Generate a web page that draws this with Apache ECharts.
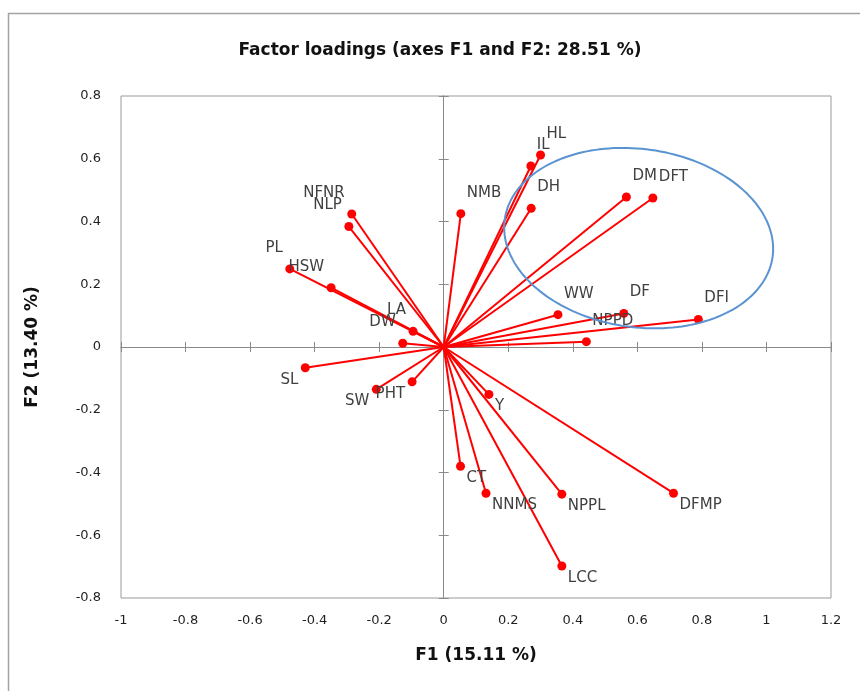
<!DOCTYPE html>
<html>
<head>
<meta charset="utf-8">
<script src="https://cdn.jsdelivr.net/npm/echarts@6/dist/echarts.min.js"></script>
<style>html,body{margin:0;padding:0;background:#fff}#c{width:860px;height:691px}</style>
</head>
<body>
<div id="c"></div>
<script>
// Variable names and factor loadings
const varNames = ['HL','IL','NMB','DH','DM','DFT','WW','DF','DFI','NPPD','NFNR','NLP','PL','HSW','LA','DW','SL','PHT','SW','Y','CT','NNMS','NPPL','DFMP','LCC'];
const f1 = [0.300, 0.270, 0.053, 0.271, 0.566, 0.648, 0.354, 0.558, 0.789, 0.442, -0.285, -0.294, -0.477, -0.349, -0.095, -0.127, -0.429, -0.098, -0.209, 0.140, 0.052, 0.131, 0.366, 0.712, 0.366];
const f2 = [0.612, 0.577, 0.425, 0.442, 0.478, 0.475, 0.103, 0.107, 0.088, 0.017, 0.424, 0.384, 0.249, 0.189, 0.050, 0.012, -0.066, -0.111, -0.135, -0.151, -0.380, -0.466, -0.469, -0.466, -0.698];
// Highlight ellipse: centre (F1, F2) and semi-axes in axis units
const ellipseCentre = [0.604, 0.347];
const ellipseRadii = [0.419, 0.284];

const xMin = -1, xMax = 1.2, yMin = -0.8, yMax = 0.8, step = 0.2;
const tickFont = {fontFamily: 'DejaVu Sans', fontSize: 13, color: '#1f1f1f'};
const gray = '#8a8a8a';

function labelFor(x, y) {
  const right = x >= 0, top = y >= 0;
  return {
    show: true, position: 'inside',
    align: right ? 'left' : 'right', verticalAlign: 'middle',
    offset: [right ? 6 : -7, top ? -21 : 12],
    color: '#404040', fontFamily: 'DejaVu Sans', fontSize: 15,
    textBorderWidth: 0, textBorderColor: 'transparent', formatter: '{b}'
  };
}

function baseAxis(extra) {
  return Object.assign({type: 'value', min: xMin, max: xMax, interval: step, splitLine: {show: false}}, extra);
}
function zeroAxis(grid, inside) {
  return {
    gridIndex: grid,
    axisLine: {show: true, onZero: true, lineStyle: {color: gray, width: 1}},
    axisTick: {show: true, inside: inside, length: 5, lineStyle: {color: gray}},
    axisLabel: {show: false}
  };
}
const gridBox = {left: 121, right: 29, top: 96, bottom: 93, containLabel: false, outerBoundsMode: 'none'};

const chart = echarts.init(document.getElementById('c'), null, {renderer: 'canvas'});
chart.setOption({
  animation: false,
  backgroundColor: '#fff',
  title: {
    text: 'Factor loadings (axes F1 and F2: 28.51 %)',
    left: 435, top: 37, textAlign: 'center',
    textStyle: {fontFamily: 'DejaVu Sans', fontWeight: 'bold', fontSize: 17, color: '#111'}
  },
  graphic: [{
    type: 'rect', shape: {x: 8.5, y: 13.5, width: 900, height: 800},
    style: {fill: 'none', stroke: '#a3a3a3', lineWidth: 1.5}, silent: true, z: -1
  }],
  grid: [
    Object.assign({show: true, borderColor: '#9a9a9a', borderWidth: 1}, gridBox),
    Object.assign({show: false}, gridBox)
  ],
  xAxis: [
    baseAxis({gridIndex: 0, position: 'bottom',
      axisLine: {show: false, onZero: false}, axisTick: {show: false},
      axisLabel: Object.assign({margin: 16}, tickFont),
      name: 'F1 (15.11 %)', nameLocation: 'middle', nameGap: 49,
      nameTextStyle: {fontFamily: 'DejaVu Sans', fontWeight: 'bold', fontSize: 17, color: '#111'}}),
    baseAxis(Object.assign(zeroAxis(0, false), {position: 'bottom'})),
    baseAxis(Object.assign(zeroAxis(1, true), {position: 'bottom'}))
  ],
  yAxis: [
    baseAxis({gridIndex: 0, min: yMin, max: yMax, position: 'left',
      axisLine: {show: false, onZero: false}, axisTick: {show: false},
      axisLabel: Object.assign({margin: 20}, tickFont),
      name: 'F2 (13.40 %)', nameLocation: 'middle', nameGap: 80,
      nameTextStyle: {fontFamily: 'DejaVu Sans', fontWeight: 'bold', fontSize: 17, color: '#111'}}),
    baseAxis(Object.assign(zeroAxis(0, false), {min: yMin, max: yMax, position: 'left'})),
    baseAxis(Object.assign(zeroAxis(1, true), {min: yMin, max: yMax, position: 'left'}))
  ],
  series: [
    {
      type: 'lines', coordinateSystem: 'cartesian2d', xAxisIndex: 0, yAxisIndex: 0,
      silent: true, z: 3,
      lineStyle: {color: '#ff0000', width: 2, opacity: 1, curveness: 0},
      data: varNames.map((n, i) => ({coords: [[0, 0], [f1[i], f2[i]]]}))
    },
    {
      type: 'scatter', xAxisIndex: 0, yAxisIndex: 0, z: 4,
      symbol: 'circle', symbolSize: 9,
      itemStyle: {color: '#ff0000', opacity: 1},
      data: varNames.map((n, i) => ({name: n, value: [f1[i], f2[i]], label: labelFor(f1[i], f2[i])}))
    },
    {
      type: 'custom', xAxisIndex: 0, yAxisIndex: 0, z: 5, silent: true,
      data: [[ellipseCentre[0], ellipseCentre[1], ellipseRadii[0], ellipseRadii[1]]],
      renderItem: function (params, api) {
        const c = api.coord([api.value(0), api.value(1)]);
        const s = api.size([api.value(2), api.value(3)]);
        const rot = 8 * Math.PI / 180;
        const pts = [];
        for (let k = 0; k < 180; k++) {
          const t = k / 180 * Math.PI * 2;
          const px = s[0] * Math.cos(t), py = s[1] * Math.sin(t);
          pts.push([c[0] + px * Math.cos(rot) - py * Math.sin(rot), c[1] + px * Math.sin(rot) + py * Math.cos(rot)]);
        }
        return {type: 'polygon', shape: {points: pts}, style: {fill: 'none', stroke: '#5a93d2', lineWidth: 2}};
      }
    }
  ]
});
</script>
</body>
</html>
